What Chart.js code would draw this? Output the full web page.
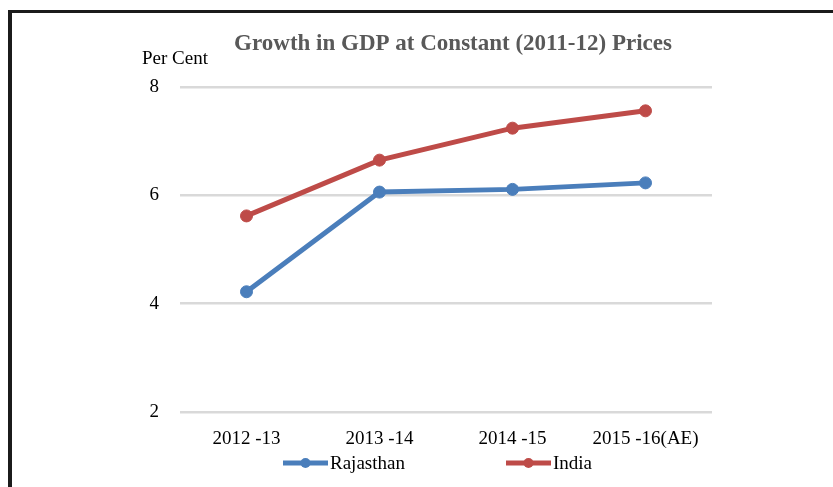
<!DOCTYPE html>
<html>
<head>
<meta charset="utf-8">
<script src="https://cdn.jsdelivr.net/npm/chart.js@4/dist/chart.umd.min.js"></script>
<style>
  html, body { margin: 0; padding: 0; background: #fff; }
  #wrap { position: relative; width: 833px; height: 487px; overflow: hidden; }
  #frame {
    position: absolute; left: 8px; top: 10px; width: 900px; height: 600px;
    border-left: 4px solid #1b1b1b; border-top: 3px solid #1b1b1b;
  }
  canvas { position: absolute; left: 0; top: 0; }
</style>
</head>
<body>
<div id="wrap">
  <div id="frame"></div>
  <canvas id="c" width="833" height="487"></canvas>
</div>
<script>
// Growth in GDP at constant (2011-12) prices, per cent
const years = ['2012 -13', '2013 -14', '2014 -15', '2015 -16(AE)'];
const rajasthan = [4.22, 6.06, 6.11, 6.23];
const india = [5.62, 6.65, 7.24, 7.56];
const yTicks = [2, 4, 6, 8];

const chartTitle = 'Growth in GDP at Constant (2011-12) Prices';
const unitLabel = 'Per Cent';

const SERIF = '"Liberation Serif", "Times New Roman", serif';
const BLUE = '#4a7ebb';
const RED = '#be4b48';

// Title, unit caption and the line-with-marker legend
const decorations = {
  id: 'decorations',
  afterDraw(chart) {
    const ctx = chart.ctx;
    ctx.save();
    ctx.fillStyle = '#595959';
    ctx.font = 'bold 23px ' + SERIF;
    ctx.textAlign = 'center';
    ctx.textBaseline = 'middle';
    ctx.fillText(chartTitle, 453, 44);

    ctx.fillStyle = '#000';
    ctx.font = '19px ' + SERIF;
    ctx.textAlign = 'left';
    ctx.fillText(unitLabel, 142, 59);

    const legendY = 463;
    const items = [{ x: 283 }, { x: 506 }];
    chart.data.datasets.forEach((ds, i) => {
      const x0 = items[i].x;
      ctx.strokeStyle = ds.borderColor;
      ctx.lineWidth = 5;
      ctx.beginPath();
      ctx.moveTo(x0, legendY);
      ctx.lineTo(x0 + 45, legendY);
      ctx.stroke();
      ctx.fillStyle = ds.borderColor;
      ctx.beginPath();
      ctx.arc(x0 + 22.5, legendY, 5, 0, Math.PI * 2);
      ctx.fill();
      ctx.fillStyle = '#000';
      ctx.font = '19px ' + SERIF;
      ctx.textAlign = 'left';
      ctx.textBaseline = 'middle';
      ctx.fillText(ds.label, x0 + 47, legendY + 1);
    });
    ctx.restore();
  }
};

new Chart(document.getElementById('c'), {
  type: 'line',
  data: {
    labels: years,
    datasets: [
      {
        label: 'Rajasthan', data: rajasthan,
        borderColor: BLUE, backgroundColor: BLUE,
        borderWidth: 5, pointRadius: 6, pointBorderWidth: 1,
        pointBackgroundColor: BLUE, pointBorderColor: BLUE, tension: 0
      },
      {
        label: 'India', data: india,
        borderColor: RED, backgroundColor: RED,
        borderWidth: 5, pointRadius: 6, pointBorderWidth: 1,
        pointBackgroundColor: RED, pointBorderColor: RED, tension: 0
      }
    ]
  },
  options: {
    responsive: false,
    animation: false,
    devicePixelRatio: 1,
    layout: { padding: { top: 87, right: 121, bottom: 0, left: 0 } },
    plugins: {
      legend: { display: false },
      title: { display: false },
      tooltip: { enabled: false }
    },
    scales: {
      x: {
        offset: true,
        grid: { display: false },
        border: { display: false },
        ticks: { color: '#000', font: { family: SERIF, size: 19 }, padding: 8, maxRotation: 0 },
        afterFit(scale) { scale.height = 75; }
      },
      y: {
        min: 2, max: 8,
        afterBuildTicks(scale) { scale.ticks = yTicks.map(v => ({ value: v })); },
        grid: { color: '#d9d9d9', lineWidth: 2.5, drawTicks: false },
        border: { display: false },
        ticks: { color: '#000', font: { family: SERIF, size: 19 }, padding: 21 },
        afterFit(scale) { scale.width = 180; }
      }
    }
  },
  plugins: [decorations]
});
</script>
</body>
</html>
